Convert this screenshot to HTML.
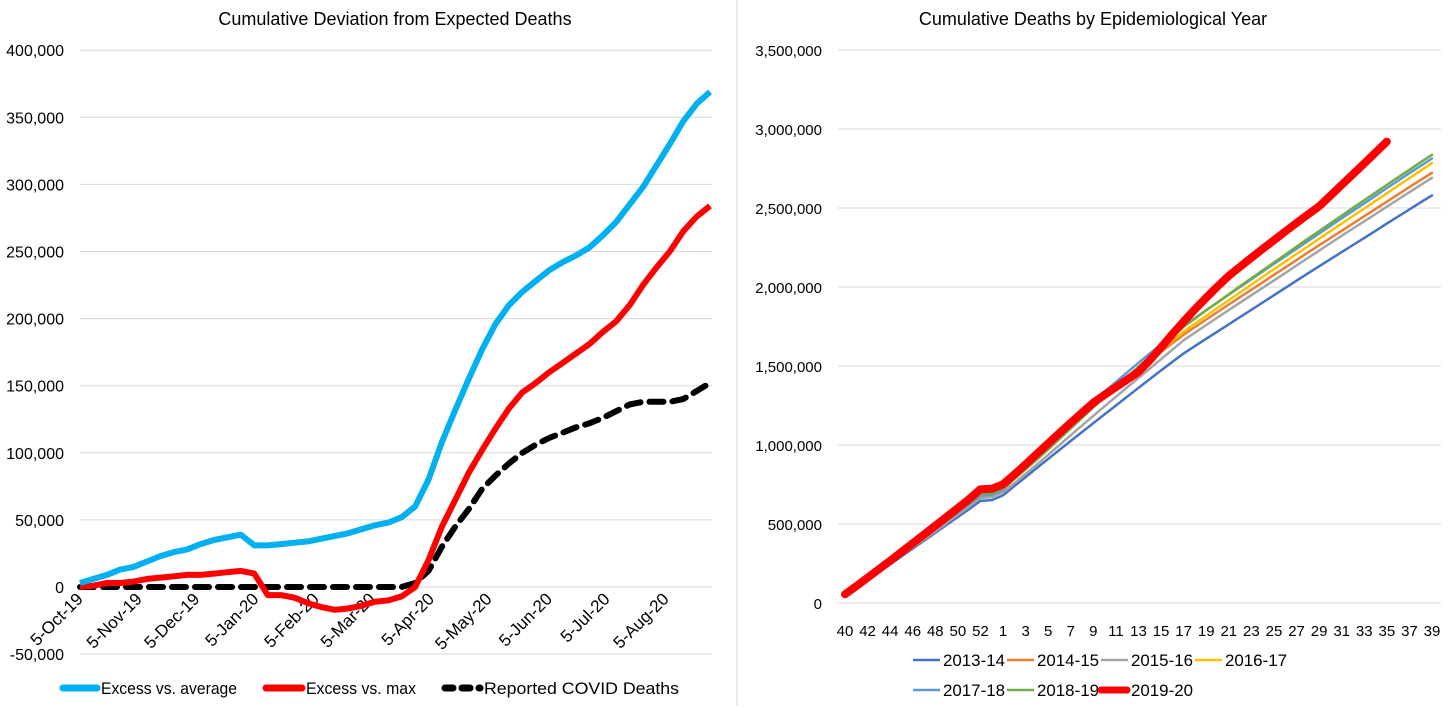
<!DOCTYPE html>
<html><head><meta charset="utf-8"><style>
body{margin:0;background:#fff;width:1453px;height:706px;overflow:hidden;font-family:"Liberation Sans",sans-serif;}
svg text{font-family:"Liberation Sans",sans-serif;fill:#000;}
</style></head><body>
<svg id="chart" width="1453" height="706">
<line x1="737" y1="0" x2="737" y2="706" stroke="#d9d9d9" stroke-width="1"/>
<text x="395" y="25" font-size="18" text-anchor="middle">Cumulative Deviation from Expected Deaths</text>
<text x="1093" y="25" font-size="18" text-anchor="middle">Cumulative Deaths by Epidemiological Year</text>
<g id="left"></g><g id="right"></g>
</svg>
<script>
// ---- Left chart data (thousands) ----
const leftYTicks = [400,350,300,250,200,150,100,50,0,-50];
const dateLabels = ["5-Oct-19","5-Nov-19","5-Dec-19","5-Jan-20","5-Feb-20","5-Mar-20","5-Apr-20","5-May-20","5-Jun-20","5-Jul-20","5-Aug-20"];
const dateLabelWeeks = [0,4.4,8.7,13.1,17.6,21.8,26.2,30.5,35,39.3,43.7];
const excessAvg = [3,6,9,13,15,19,23,26,28,32,35,37,39,31,31,32,33,34,36,38,40,43,46,48,52,60,80,108,132,155,177,196,210,220,228,236,242,247,253,262,272,285,298,314,330,347,360,369];
const excessMax = [0,1,3,3,4,6,7,8,9,9,10,11,12,10,-6,-6,-8,-12,-15,-17,-16,-14,-11,-10,-7,0,20,45,65,85,102,118,133,145,152,160,167,174,181,190,198,210,225,238,250,265,276,284];
const covidDeaths = [0,0,0,0,0,0,0,0,0,0,0,0,0,0,0,0,0,0,0,0,0,0,0,0,0,3,12,30,45,58,73,83,92,100,106,111,115,119,122,126,131,136,138,138,138,140,146,152];

// ---- Right chart data (thousands; start value then weekly increments; weeks 40..53,1..39) ----
const weekLabels = ["40","42","44","46","48","50","52","1","3","5","7","9","11","13","15","17","19","21","23","25","27","29","31","33","35","37","39"];
const rightYTicks = [3500,3000,2500,2000,1500,1000,500,0];
const s1314 = [50,48,48,49,49,50,50,50,50,50,50,50,52,5,30,58,58,58,57,57,57,56,56,56,56,56,56,55,55,54,54,46,46,46,46,46,46,46,46,46,46,46,45,45,45,45,45,45,45,45,45,45,44];
const s1415 = [52,49,50,51,51,52,52,53,53,53,54,54,56,6,30,70,72,70,68,65,63,61,60,59,58,58,57,56,56,55,54,48,48,48,47,47,47,47,47,47,47,47,46,46,46,46,46,46,46,46,46,46,45];
const s1516 = [50,49,50,50,51,51,51,51,51,52,52,53,54,5,30,58,59,60,61,62,62,62,61,60,60,60,60,59,59,60,60,48,48,48,47,47,47,47,47,47,47,47,47,47,47,46,46,46,46,46,46,46,45];
const s1617 = [53,50,51,52,52,52,53,53,53,53,54,54,55,6,30,68,70,70,68,66,64,62,61,60,60,59,59,58,58,57,57,50,50,50,49,49,49,49,49,48,48,48,48,48,48,48,48,48,48,48,48,48,47];
const s1718 = [54,50,51,51,52,52,52,52,52,53,53,54,54,6,30,73,75,76,75,68,66,64,63,62,61,61,60,59,59,58,57,50,50,49,49,49,49,49,48,48,48,48,48,48,48,48,48,48,48,47,47,47,46];
const s1819 = [52,51,52,52,53,53,53,53,53,54,54,55,55,5,30,60,61,62,64,66,67,67,66,65,64,64,64,63,63,63,64,52,52,51,51,51,50,50,50,50,50,50,49,49,49,49,49,48,48,48,48,48,47];
const s1920 = [55,52,53,54,54,55,55,55,56,56,56,57,62,3,28,62,65,66,66,66,65,64,63,50,48,48,49,73,82,84,80,76,74,71,68,57,57,56,55,55,54,53,52,68,68,68,68,69,69];
const seriesNames = ["2013-14","2014-15","2015-16","2016-17","2017-18","2018-19","2019-20"];

const NS="http://www.w3.org/2000/svg";
function mk(parent,tag,attrs,text){const e=document.createElementNS(NS,tag);for(const k in attrs)e.setAttribute(k,attrs[k]);if(text!==undefined)e.textContent=text;parent.appendChild(e);return e;}

// ---- Left chart ----
const L=document.getElementById('left');
const lx0=80,lx1=712,ly=v=>587-v*67.1/50,lxw=i=>80+i*(630/47);
leftYTicks.forEach(t=>{
  const g=mk(L,'line',{x1:lx0,x2:lx1,y1:ly(t),y2:ly(t),stroke:'#d9d9d9','stroke-width':1});
  
  
  const tx=mk(L,'text',{x:64,y:ly(t)+6,'font-size':16,'text-anchor':'end'},t===0?'0':(t<0?'-':'')+Math.abs(t)+',000');
  
  
});
dateLabels.forEach((d,i)=>{
  const x=lxw(dateLabelWeeks[i])+4,y=600;
  const tx=mk(L,'text',{x:x,y:y,'font-size':17,'text-anchor':'end',transform:`rotate(-45 ${x} ${y})`},d);
  
  
});
function pathFor(arr,xf,yf){return arr.map((v,i)=>(i?'L':'M')+xf(i).toFixed(1)+' '+yf(v).toFixed(1)).join(' ');}
let p=mk(L,'path',{d:pathFor(covidDeaths,lxw,ly),fill:'none',stroke:'#000','stroke-width':6,'stroke-dasharray':'14 9','stroke-linecap':'round','stroke-linejoin':'round'});


p=mk(L,'path',{d:pathFor(excessMax,lxw,ly),fill:'none',stroke:'#ff0000','stroke-width':6,'stroke-linejoin':'round'});


p=mk(L,'path',{d:pathFor(excessAvg,lxw,ly),fill:'none',stroke:'#00b0f0','stroke-width':6,'stroke-linejoin':'round'});


// left legend
const leg=[["Excess vs. average","#00b0f0",null,63,101,136],["Excess vs. max","#ff0000",null,266,306,110],["Reported COVID Deaths","#000","8 9",445,484,195]];
leg.forEach(l=>{
  const ln=mk(L,'line',{x1:l[3],x2:l[4]-4,y1:688,y2:688,stroke:l[1],'stroke-width':7,'stroke-linecap':'round'});
  if(l[2])ln.setAttribute('stroke-dasharray',l[2]);
  
  
  const tx=mk(L,'text',{x:l[4],y:694,'font-size':17,textLength:l[5],lengthAdjust:'spacingAndGlyphs'},l[0]);
  
  
});

// ---- Right chart ----
const R=document.getElementById('right');
const ry=v=>603-v*79/500,rxw=i=>845+i*(587/52);
rightYTicks.forEach(t=>{
  const g=mk(R,'line',{x1:838,x2:1441,y1:ry(t),y2:ry(t),stroke:'#d9d9d9','stroke-width':1});
  
  
  const s=t===0?'0':(t>=1000?Math.floor(t/1000)+','+String(t%1000).padStart(3,'0'):t)+(t?',000':'');
  const tx=mk(R,'text',{x:822,y:ry(t)+6,'font-size':15,'text-anchor':'end'},s);
  
  
});
weekLabels.forEach((w,k)=>{
  const tx=mk(R,'text',{x:rxw(k*2),y:636,'font-size':15,'text-anchor':'middle'},w);
  
  
});
function cum(a){let s=0;return a.map(v=>s+=v);}
const allSeries=[s1314,s1415,s1516,s1617,s1718,s1819,s1920];
const colors=["#4472c4","#ed7d31","#a5a5a5","#ffc000","#5b9bd5","#70ad47","#ff0000"];
const widths=[2.5,2.5,2.5,2.5,2.5,2.5,8];
const drawOrder=[0,2,1,3,4,5,6];
drawOrder.forEach(k=>{
  const pp=mk(R,'path',{d:pathFor(cum(allSeries[k]),rxw,ry),fill:'none',stroke:colors[k],'stroke-width':widths[k],'stroke-linejoin':'round','stroke-linecap':'round'});
  
  
});
// right legend
const legPos=[[943,660],[1037,660],[1131,660],[1225,660],[943,690],[1037,690],[1131,690]];
seriesNames.forEach((n,k)=>{
  const [x,y]=legPos[k];
  const ln=mk(R,'line',{x1:k===6?x-30:x-30,x2:k===6?x-4:x-3,y1:y,y2:y,stroke:colors[k],'stroke-width':k===6?7:2.5,'stroke-linecap':k===6?'round':'butt'});
  
  
  const tx=mk(R,'text',{x:x,y:y+6,'font-size':17,textLength:62,lengthAdjust:'spacingAndGlyphs'},n);
  
  
});
</script>
</body></html>
